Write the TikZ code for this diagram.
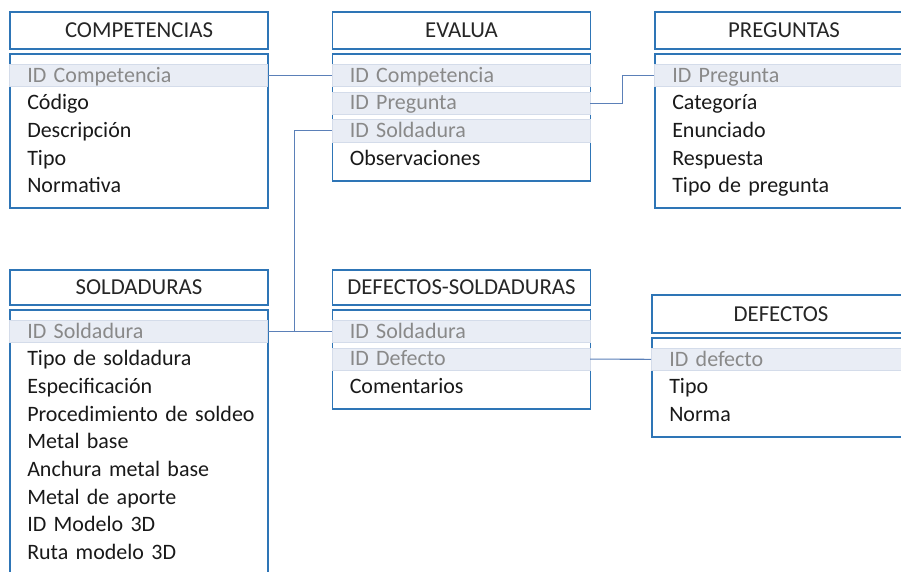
\documentclass[tikz,border=0pt]{standalone}
\usepackage{fontspec}
\setmainfont{Carlito}
\usetikzlibrary{positioning}
\definecolor{tblblue}{RGB}{46,117,182}
\definecolor{relblue}{RGB}{91,128,184}
\definecolor{keyfill}{RGB}{233,237,245}
\definecolor{keyline}{RGB}{212,220,234}
\definecolor{keytext}{RGB}{137,137,137}

\begin{document}
\begin{tikzpicture}[x=1pt,y=-1pt,font=\fontsize{22}{26}\selectfont,
  title/.style={draw=tblblue,line width=1.9pt,minimum width=258pt,minimum height=37pt,
    inner sep=0pt,text=black!85,font=\fontsize{22.8}{26}\selectfont},
  body/.style={draw=tblblue,line width=1.9pt,minimum width=258pt,inner sep=0pt},
  key/.style={fill=keyfill,draw=keyline,line width=0.5pt,minimum height=22.25pt,
    text height=18pt,text depth=4.25pt,
    text width=222pt,inner xsep=18pt,inner ysep=0pt,align=left,text=keytext},
  fld/.style={minimum height=22.25pt,text height=18pt,text depth=4.25pt,
    text width=250pt,inner xsep=18pt,inner ysep=0pt,align=left,text=black!90},
  rel/.style={draw=relblue,line width=1.1pt}]
\useasboundingbox (0,0) rectangle (901,572);
\clip (0,0) rectangle (901,572);

% COMPETENCIAS
\node[title] (comp) at (139,30.5) {COMPETENCIAS};
\node[body,minimum height=154pt,below=3pt of comp] (comp-b) {};
\node[key,below=11pt of comp-b.north west,anchor=north west] (comp-1) {ID Competencia};
\foreach \f [count=\i from 2,evaluate=\i as \j using int(\i-1)] in {Código,Descripción,Tipo,Normativa}
  \node[fld,below=5pt of comp-\j.south west,anchor=north west] (comp-\i) {\f};

% EVALUA
\node[title] (eval) at (461.5,30.5) {EVALUA};
\node[body,minimum height=127pt,below=3pt of eval] (eval-b) {};
\node[key,below=11pt of eval-b.north west,anchor=north west] (eval-1) {ID Competencia};
\node[key,below=5pt of eval-1.south west,anchor=north west] (eval-2) {ID Pregunta};
\node[key,below=5pt of eval-2.south west,anchor=north west] (eval-3) {ID Soldadura};
\node[fld,below=5pt of eval-3.south west,anchor=north west] (eval-4) {Observaciones};

% PREGUNTAS
\node[title] (preg) at (784,30.5) {PREGUNTAS};
\node[body,minimum height=154pt,below=3pt of preg] (preg-b) {};
\node[key,below=11pt of preg-b.north west,anchor=north west] (preg-1) {ID Pregunta};
\foreach \f [count=\i from 2,evaluate=\i as \j using int(\i-1)] in {Categoría,Enunciado,Respuesta,Tipo de pregunta}
  \node[fld,below=5pt of preg-\j.south west,anchor=north west] (preg-\i) {\f};

% SOLDADURAS
\node[title,minimum height=35pt] (sold) at (139,287.5) {SOLDADURAS};
\node[body,minimum height=300pt,below=3pt of sold] (sold-b) {};
\node[key,below=11pt of sold-b.north west,anchor=north west] (sold-1) {ID Soldadura};
\foreach \f [count=\i from 2,evaluate=\i as \j using int(\i-1)] in {Tipo de soldadura,Especificación,
    Procedimiento de soldeo,Metal base,Anchura metal base,Metal de aporte,ID Modelo 3D,Ruta modelo 3D}
  \node[fld,below=5pt of sold-\j.south west,anchor=north west] (sold-\i) {\f};

% DEFECTOS-SOLDADURAS
\node[title,minimum height=35pt] (ds) at (461.5,287.5) {DEFECTOS-SOLDADURAS};
\node[body,minimum height=99pt,below=3pt of ds] (ds-b) {};
\node[key,below=11pt of ds-b.north west,anchor=north west] (ds-1) {ID Soldadura};
\node[key,below=5pt of ds-1.south west,anchor=north west] (ds-2) {ID Defecto};
\node[fld,below=5pt of ds-2.south west,anchor=north west] (ds-3) {Comentarios};

% DEFECTOS
\node[title,minimum height=38pt] (def) at (781,314) {DEFECTOS};
\node[body,minimum height=99pt,below=3pt of def] (def-b) {};
\node[key,below=11pt of def-b.north west,anchor=north west] (def-1) {ID defecto};
\node[fld,below=5pt of def-1.south west,anchor=north west] (def-2) {Tipo};
\node[fld,below=5pt of def-2.south west,anchor=north west] (def-3) {Norma};

% relaciones
\draw[rel] (comp-1.east) -- (eval-1.west);
\draw[rel] (eval-2.east) -- ++(32,0) |- (preg-1.west);
\draw[rel] (eval-3.west) -- ++(-37,0) |- (sold-1.east);
\draw[rel] (sold-1.east) -- (ds-1.west);
\draw[rel] (ds-2.east) -- (def-1.west);
\end{tikzpicture}
\end{document}
